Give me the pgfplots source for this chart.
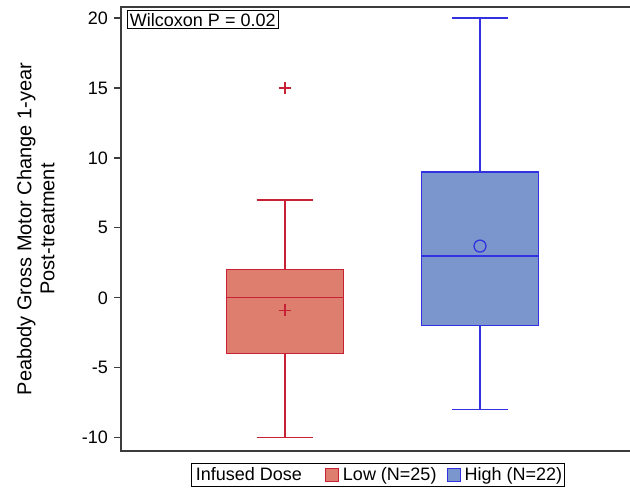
\documentclass[border=0pt]{standalone}
\usepackage{fontspec}
\setmainfont{Liberation Sans}
\usepackage{pgfplots}
\pgfplotsset{compat=1.18}
\usepgfplotslibrary{statistics}

\definecolor{lowfill}{RGB}{222,126,110}
\definecolor{lowedge}{RGB}{200,32,52}
\definecolor{highfill}{RGB}{123,150,204}
\definecolor{highedge}{RGB}{50,50,225}
\definecolor{axgray}{RGB}{60,60,60}

\begin{document}
\fontsize{18pt}{21pt}\selectfont
\begin{tikzpicture}
\begin{axis}[
  name=ax,
  scale only axis,
  width=523pt, height=444pt,
  xmin=0.159, xmax=2.841,
  ymin=-10.95, ymax=20.79,
  boxplot/draw direction=y,
  axis line style={axgray, line width=1.5pt},
  xtick=\empty,
  ytick={-10,-5,...,20},
  ytick pos=left,
  tick align=outside,
  ytick style={axgray, line width=1.2pt},
  major tick length=7pt,
  /pgf/number format/assume math mode=true,
  yticklabel style={font=\fontsize{18pt}{21pt}\selectfont},
  ylabel={Peabody Gross Motor Change 1-year\\Post-treatment},
  ylabel style={align=center, font=\fontsize{20pt}{23pt}\selectfont,
    at={(axis description cs:-0.115,0.5)}, anchor=south},
  legend columns=3,
  legend style={at={(0.4914,-0.027)}, anchor=north, draw=black, line width=1pt,
    font=\fontsize{18pt}{21pt}\selectfont, inner xsep=0.5pt, inner ysep=1.5pt,
    /tikz/every odd column/.append style={column sep=2pt},
    /tikz/every even column/.append style={column sep=8pt}},
  legend image code/.code={\draw[#1, line width=1pt] (0pt,-6.5pt) rectangle (13pt,6.5pt);},
  clip=false,
]
\addlegendimage{empty legend}
\addlegendentry{Infused Dose\hspace{13pt}\null}
\addlegendimage{fill=lowfill, draw=lowedge}
\addlegendentry{Low (N=25)}
\addlegendimage{fill=highfill, draw=highedge}
\addlegendentry{High (N=22)}

\addplot[forget plot, boxplot prepared={
    lower whisker=-10, lower quartile=-4, median=0,
    upper quartile=2, upper whisker=7,
    draw position=1, box extend=0.6, whisker extend=0.29},
  draw=lowedge, fill=lowfill, line width=1.3pt] coordinates {};
\addplot[forget plot, boxplot prepared={
    lower whisker=-8, lower quartile=-2, median=3,
    upper quartile=9, upper whisker=20,
    draw position=2, box extend=0.6, whisker extend=0.29},
  draw=highedge, fill=highfill, line width=1.3pt] coordinates {};

% means
\addplot[forget plot, only marks, mark=+, mark size=6pt, lowedge, line width=1.3pt]
  coordinates {(1,-0.9)};
\addplot[forget plot, only marks, mark=o, mark size=6pt, highedge, line width=1.3pt]
  coordinates {(2,3.7)};
% outlier
\addplot[forget plot, only marks, mark=+, mark size=6pt, lowedge, line width=1.3pt]
  coordinates {(1,15)};

\node[draw=black, line width=1pt, anchor=north west, fill=white, inner sep=2.5pt,
  font=\fontsize{18pt}{21pt}\selectfont]
  at ([xshift=6pt, yshift=-3pt]rel axis cs:0,1) {Wilcoxon P = 0.02};
\end{axis}
\pgfresetboundingbox
\path[use as bounding box] ([xshift=-121pt,yshift=-37pt]ax.south west)
  rectangle ([xshift=509pt,yshift=7pt]ax.north west);
\end{tikzpicture}
\end{document}
